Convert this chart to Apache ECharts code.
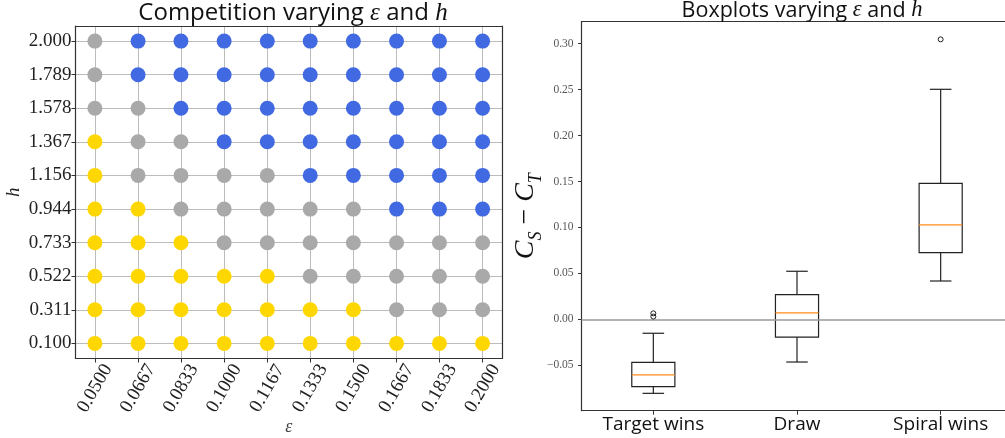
<!DOCTYPE html>
<html>
<head>
<meta charset="utf-8">
<script src="https://cdn.jsdelivr.net/npm/echarts@6/dist/echarts.min.js"></script>
<style>
  html, body { margin: 0; padding: 0; background: #fff; }
  #chart { width: 1005px; height: 438px; }
</style>
</head>
<body>
<div id="chart"></div>
<script>
// ---- Competition grid: epsilon (columns) x h (rows) ----
const epsLabels = ['0.0500', '0.0667', '0.0833', '0.1000', '0.1167', '0.1333', '0.1500', '0.1667', '0.1833', '0.2000'];
const hLabels = ['0.100', '0.311', '0.522', '0.733', '0.944', '1.156', '1.367', '1.578', '1.789', '2.000'];

// One string per h row (bottom to top); one letter per epsilon column.
// T = target wins, D = draw, S = spiral wins
const outcomeRows = [
  'TTTTTTTTTT', // h = 0.100
  'TTTTTTTDDD', // h = 0.311
  'TTTTTDDDDD', // h = 0.522
  'TTTDDDDDDD', // h = 0.733
  'TTDDDDDSSS', // h = 0.944
  'TDDDDSSSSS', // h = 1.156
  'TDDSSSSSSS', // h = 1.367
  'DDSSSSSSSS', // h = 1.578
  'DSSSSSSSSS', // h = 1.789
  'DSSSSSSSSS'  // h = 2.000
];
const outcomeColors = { T: '#FFD700', D: '#A9A9A9', S: '#4169E1' };

// ---- Boxplots of C_S - C_T per outcome ----
const boxCategories = ['Target wins', 'Draw', 'Spiral wins'];
// [whisker low, Q1, median, Q3, whisker high]
const boxStats = [
  [-0.0806, -0.0733, -0.0606, -0.0468, -0.0152],
  [-0.0465, -0.0193, 0.0069, 0.0268, 0.0523],
  [0.0417, 0.0725, 0.1027, 0.1480, 0.2504]
];
// [category index, value]
const boxOutliers = [[0, 0.0065], [0, 0.0030], [2, 0.3048]];
const boxTicks = [-0.05, 0.00, 0.05, 0.10, 0.15, 0.20, 0.25, 0.30];

const epsValues = epsLabels.map(Number);
const hValues = hLabels.map(Number);

const gridPoints = [];
outcomeRows.forEach((row, r) => {
  row.split('').forEach((code, c) => {
    gridPoints.push({ value: [epsValues[c], hValues[r]], itemStyle: { color: outcomeColors[code] } });
  });
});

const serif = "'Liberation Serif', 'DejaVu Serif', serif";
const sans = "'Open Sans', 'Liberation Sans', sans-serif";
const spine = { show: true, onZero: false, lineStyle: { color: '#333', width: 1.2 } };
const gridLine = { show: true, lineStyle: { color: '#bcbcbc', width: 1 } };

// matplotlib-style 5% margins around the data range
const pad = (arr) => {
  const lo = Math.min(...arr), hi = Math.max(...arr), m = (hi - lo) * 0.05;
  return [lo - m, hi + m];
};
const [epsMin, epsMax] = pad(epsValues);
const [hMin, hMax] = pad(hValues);

const chart = echarts.init(document.getElementById('chart'), null, { renderer: 'canvas' });

const titleStyle = (size) => ({
  fontFamily: sans, fontSize: size, fontWeight: 'normal', color: '#111',
  rich: { m: { fontFamily: serif, fontStyle: 'italic', fontSize: size + 1, color: '#111' } }
});

chart.setOption({
  animation: false,
  backgroundColor: '#fff',
  title: [
    { text: 'Competition varying {m|ε} and {m|h}', left: 288, top: -4, textAlign: 'center', textStyle: titleStyle(24) },
    { text: 'Boxplots varying {m|ε} and {m|h}', left: 797, top: -6, textAlign: 'center', textStyle: titleStyle(21.5) }
  ],
  grid: [
    { left: 75.5, top: 26, width: 426.5, height: 332.5, containLabel: false, outerBoundsMode: 'none' },
    { left: 581.5, top: 21.7, width: 431, height: 389, containLabel: false, outerBoundsMode: 'none' }
  ],
  xAxis: [
    {
      type: 'value', gridIndex: 0, min: epsMin, max: epsMax,
      name: 'ε', nameLocation: 'middle', nameGap: 60, nameMoveOverlap: false,
      nameTextStyle: { fontFamily: serif, fontStyle: 'italic', fontSize: 18, color: '#444' },
      axisLine: spine,
      axisTick: { show: true, length: 4, customValues: epsValues, lineStyle: { color: '#333' } },
      axisLabel: {
        customValues: epsValues,
        formatter: (v) => epsLabels[epsValues.indexOf(v)] ?? '',
        rotate: 60, align: 'center', verticalAlign: 'middle', margin: 30,
        fontFamily: serif, fontSize: 19, color: '#222'
      },
      splitLine: gridLine
    },
    {
      type: 'value', gridIndex: 0, position: 'top', min: epsMin, max: epsMax,
      axisLine: spine, axisTick: { show: false }, axisLabel: { show: false }, splitLine: { show: false }
    },
    {
      type: 'category', gridIndex: 1, data: boxCategories, boundaryGap: true,
      axisLine: spine,
      axisTick: { show: true, alignWithLabel: true, length: 4, lineStyle: { color: '#333' } },
      axisLabel: { fontFamily: sans, fontSize: 19, color: '#111', margin: 4 },
      splitLine: { show: false }
    },
    {
      type: 'category', gridIndex: 1, data: boxCategories, position: 'top',
      axisLine: spine, axisTick: { show: false }, axisLabel: { show: false }, splitLine: { show: false }
    }
  ],
  yAxis: [
    {
      type: 'value', gridIndex: 0, min: hMin, max: hMax,
      name: 'h', nameLocation: 'middle', nameGap: 52, nameRotate: 90, nameMoveOverlap: false,
      nameTextStyle: { fontFamily: serif, fontStyle: 'italic', fontSize: 19, color: '#222' },
      axisLine: spine,
      axisTick: { show: true, length: 4, customValues: hValues, lineStyle: { color: '#333' } },
      axisLabel: {
        customValues: hValues,
        formatter: (v) => hLabels[hValues.indexOf(v)] ?? '',
        margin: 4, fontFamily: serif, fontSize: 19, color: '#222'
      },
      splitLine: gridLine
    },
    {
      type: 'value', gridIndex: 0, position: 'right', min: hMin, max: hMax,
      axisLine: spine, axisTick: { show: false }, axisLabel: { show: false }, splitLine: { show: false }
    },
    {
      type: 'value', gridIndex: 1, min: -0.0995, max: 0.324,
      name: '{c|C}{s|S}{o| − }{c|C}{s|T}', nameLocation: 'middle', nameGap: 36, nameRotate: 90, nameMoveOverlap: false,
      nameTextStyle: {
        color: '#111',
        rich: {
          c: { fontFamily: serif, fontStyle: 'italic', fontSize: 28, color: '#111', padding: [0, 0, 6, 0], verticalAlign: 'bottom' },
          s: { fontFamily: serif, fontStyle: 'italic', fontSize: 18, color: '#111', verticalAlign: 'bottom' },
          o: { fontFamily: serif, fontSize: 28, color: '#111', padding: [0, 0, 6, 0], verticalAlign: 'bottom' }
        }
      },
      axisLine: spine,
      axisTick: { show: true, length: 3.5, customValues: boxTicks, lineStyle: { color: '#333' } },
      axisLabel: {
        customValues: boxTicks,
        formatter: (v) => (v < 0 ? '−' : '') + Math.abs(v).toFixed(2),
        margin: 8, fontFamily: serif, fontSize: 11.5, color: '#555'
      },
      splitLine: { show: false }
    }
  ],
  series: [
    {
      type: 'scatter', xAxisIndex: 0, yAxisIndex: 0,
      symbol: 'circle', symbolSize: 15,
      itemStyle: { opacity: 1 },
      data: gridPoints, z: 3
    },
    {
      type: 'custom', xAxisIndex: 2, yAxisIndex: 2,
      data: boxStats.map((s, i) => [i, ...s]),
      encode: { x: 0, y: [1, 2, 3, 4, 5] },
      renderItem: (params, api) => {
        const i = api.value(0);
        const lo = api.value(1), q1 = api.value(2), med = api.value(3), q3 = api.value(4), hi = api.value(5);
        const band = api.size([1, 0])[0];
        const half = band * 0.15, cap = band * 0.075;
        const x = api.coord([i, med])[0];
        const y = (v) => api.coord([i, v])[1];
        const ink = { stroke: '#222', lineWidth: 1.2, fill: null };
        return {
          type: 'group',
          children: [
            { type: 'line', shape: { x1: x, y1: y(hi), x2: x, y2: y(q3) }, style: ink },
            { type: 'line', shape: { x1: x, y1: y(q1), x2: x, y2: y(lo) }, style: ink },
            { type: 'line', shape: { x1: x - cap, y1: y(hi), x2: x + cap, y2: y(hi) }, style: ink },
            { type: 'line', shape: { x1: x - cap, y1: y(lo), x2: x + cap, y2: y(lo) }, style: ink },
            { type: 'rect', shape: { x: x - half, y: y(q3), width: 2 * half, height: y(q1) - y(q3) }, style: ink },
            { type: 'line', shape: { x1: x - half, y1: y(med), x2: x + half, y2: y(med) }, style: { stroke: '#ff8c1a', lineWidth: 1.2 } }
          ]
        };
      },
      markLine: {
        silent: true, symbol: 'none', label: { show: false },
        lineStyle: { color: '#9a9a9a', width: 1.5, type: 'solid' },
        data: [{ yAxis: 0 }]
      }
    },
    {
      type: 'scatter', xAxisIndex: 2, yAxisIndex: 2,
      symbol: 'circle', symbolSize: 5,
      itemStyle: { color: 'rgba(255,255,255,0)', borderColor: '#222', borderWidth: 1, opacity: 1 },
      data: boxOutliers, z: 5
    }
  ]
});
</script>
</body>
</html>
